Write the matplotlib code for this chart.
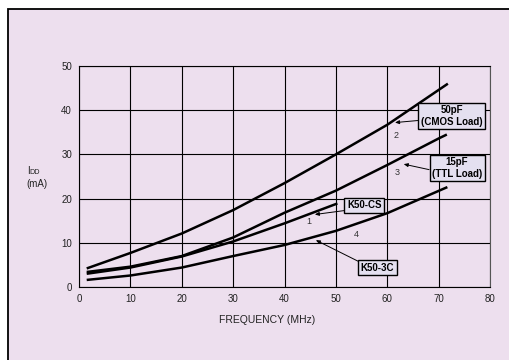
import matplotlib
matplotlib.use("Agg")
import matplotlib.pyplot as plt
from matplotlib.patches import Rectangle

plt.rcParams['font.family'] = ['Liberation Sans', 'DejaVu Sans']

# curve data (frequency MHz, IDD mA)
f1 = [1.5, 10, 20, 30, 40, 50.3]
i1 = [3.0, 4.4, 6.9, 10.3, 14.4, 18.9]
f2 = [1.5, 10, 20, 30, 40, 50, 60, 71.8]
i2 = [4.2, 7.7, 12.1, 17.4, 23.5, 30.0, 36.7, 46.0]
f3 = [1.5, 10, 20, 30, 40, 50, 60, 70, 71.6]
i3 = [3.4, 4.6, 7.0, 11.2, 16.8, 21.8, 27.6, 33.6, 34.5]
f4 = [1.5, 10, 20, 30, 40, 50, 60, 71.7]
i4 = [1.6, 2.6, 4.4, 7.0, 9.5, 12.7, 16.7, 22.6]

xticks = [0, 10, 20, 30, 40, 50, 60, 70, 80]
yticks = [0, 10, 20, 30, 40, 50]

bg = '#EDDFEE'
boxfc = '#E4E0F0'

W, H = 510, 360
fig = plt.figure(figsize=(5.1, 3.6), dpi=100)
fig.patch.set_facecolor('white')
# panel with border on left/top
fig.patches.append(Rectangle((8 / W, -0.05), 1.1, 1 - 9 / H + 0.05,
                             transform=fig.transFigure, fc=bg, ec='black',
                             lw=1.3, zorder=-1))

ax = fig.add_axes([79 / W, 1 - 287 / H, 411 / W, 221 / H])
ax.set_zorder(2)
ax.set_facecolor('none')
ax.set_xlim(0, 80)
ax.set_ylim(0, 50)
ax.set_xticks(xticks)
ax.set_yticks(yticks)
ax.tick_params(length=0, labelsize=7, pad=5, colors='#222222')
ax.grid(True, color='black', lw=0.8)
for s in ax.spines.values():
    s.set_color('black')
    s.set_linewidth(0.8)
ax.spines['right'].set_color('#555555')

for f, i in [(f1, i1), (f2, i2), (f3, i3), (f4, i4)]:
    ax.plot(f, i, color='black', lw=1.8, solid_capstyle='butt', zorder=3)

ap = dict(arrowstyle='-|>,head_length=0.35,head_width=0.15', color='black', lw=0.7,
          shrinkA=0, shrinkB=0)
bb = dict(boxstyle='square,pad=0.25', fc=boxfc, ec='black', lw=1)

ax.annotate('50pF\n(CMOS Load)', xy=(61.5, 37.2), xytext=(72.5, 38.7),
            ha='center', va='center', fontsize=7, fontweight='bold',
            multialignment='center', bbox=bb,
            arrowprops=dict(ap, relpos=(0, 0.3)), zorder=5)
ax.annotate('15pF\n(TTL Load)', xy=(63.2, 27.8), xytext=(73.6, 26.9),
            ha='center', va='center', fontsize=7, fontweight='bold',
            multialignment='center', bbox=bb,
            arrowprops=dict(ap, relpos=(0, 0.4)), zorder=5)
ax.annotate('K50-CS', xy=(45.9, 16.4), xytext=(55.5, 18.5),
            ha='center', va='center', fontsize=7, fontweight='bold', bbox=bb,
            arrowprops=dict(ap, relpos=(0, 0.0)), zorder=5)
ax.annotate('K50-3C', xy=(46.1, 10.6), xytext=(58.1, 4.4),
            ha='center', va='center', fontsize=7, fontweight='bold', bbox=bb,
            arrowprops=dict(ap, relpos=(0, 1.0)), zorder=5)

for lbl, x, y in [('1', 44.8, 14.8), ('2', 61.8, 34.2), ('3', 62.0, 25.9), ('4', 54.0, 11.8)]:
    ax.text(x, y, lbl, fontsize=6.5, color='#333333', ha='center', va='center', zorder=4)

fig.text(266.7 / W, 1 - 320 / H, 'FREQUENCY (MHz)', ha='center', va='center',
         fontsize=7.5, color='#222222')
fig.text(27 / W, 1 - 173.5 / H, 'I', ha='left', va='baseline', fontsize=7, color='#222222')
fig.text(29.5 / W, 1 - 173.5 / H, 'DD', ha='left', va='baseline', fontsize=5.2, color='#222222')
fig.text(26 / W, 1 - 187 / H, '(mA)', ha='left', va='baseline', fontsize=7, color='#222222')

fig.savefig('out.png', dpi=100)
